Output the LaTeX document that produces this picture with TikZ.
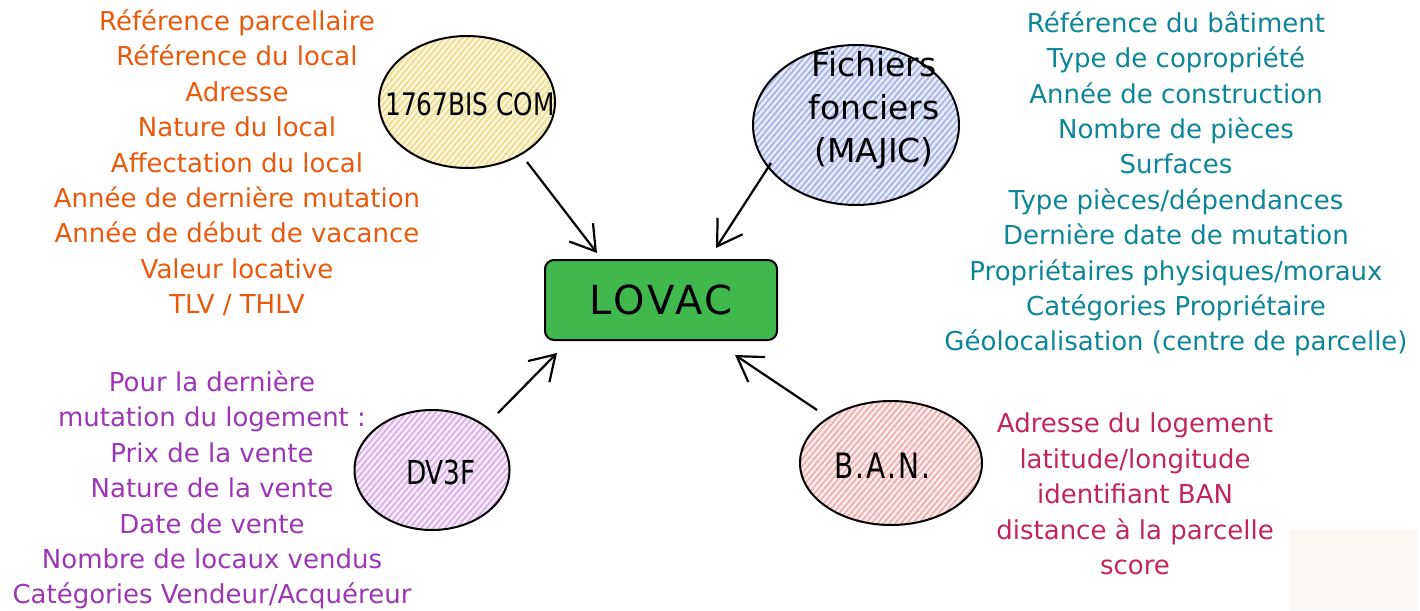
\documentclass[tikz,border=0pt]{standalone}
\usepackage{fontspec}
\setmainfont{DejaVu Sans}
\newfontfamily\narrowfont[FakeStretch=0.8]{DejaVu Sans}
\usetikzlibrary{arrows.meta,patterns.meta,shapes.geometric}
\definecolor{cOrange}{HTML}{E8590C}
\definecolor{cTeal}{HTML}{0C8599}
\definecolor{cGrape}{HTML}{9C36B5}
\definecolor{cPink}{HTML}{C2255C}
\definecolor{hYellow}{HTML}{F0DC8E}
\definecolor{tYellow}{HTML}{FCF6DC}
\definecolor{hBlue}{HTML}{A8B5E6}
\definecolor{tBlue}{HTML}{E8ECFA}
\definecolor{hGrape}{HTML}{DBAEE8}
\definecolor{tGrape}{HTML}{F7ECFB}
\definecolor{hPink}{HTML}{EDB0B0}
\definecolor{tPink}{HTML}{FCEDED}
\definecolor{cGreen}{HTML}{40B84E}
\definecolor{faint}{HTML}{FBF8F4}
\tikzset{
  src/.style={ellipse, draw=black, line width=2pt, inner sep=0pt},
  hatch/.style 2 args={preaction={fill=#2}, pattern={Lines[angle=50,distance=4.5pt,line width=1.8pt]}, pattern color=#1},
  lbl/.style={font=\fontsize{31}{40}\selectfont, text=black, align=center},
  info/.style={font=\fontsize{26}{35.4}\selectfont, align=center, text=#1},
  arr/.style={line width=2.2pt, -{Straight Barb[length=24pt,width=30pt,line width=2.2pt]}},
}
\begin{document}
\begin{tikzpicture}[x=1pt,y=-1pt]
\useasboundingbox (0,0) rectangle (1420,610);
\fill[faint] (1290,530) rectangle (1418,610);

% source ellipses
\node[src, minimum width=176pt, minimum height=132pt, hatch={hYellow}{tYellow}] (com) at (467,102) {};
\node[lbl, font=\narrowfont\fontsize{31}{40}\selectfont] (comt) at (470,104) {1767BIS COM};
\node[src, minimum width=206pt, minimum height=160pt, hatch={hBlue}{tBlue}] (majic) at (856,125) {};
\node[lbl, font=\fontsize{33}{43}\selectfont] (majict) at (874,110) {Fichiers\\fonciers\\(MAJIC)};
\node[src, minimum width=155pt, minimum height=120pt, hatch={hGrape}{tGrape}] (dvf) at (432,470) {};
\node[lbl, font=\narrowfont\fontsize{33}{40}\selectfont] (dvft) at (441,472) {DV3F};
\node[src, minimum width=182pt, minimum height=124pt, hatch={hPink}{tPink}] (ban) at (891,463) {};
\node[lbl, font=\narrowfont\fontsize{35}{40}\selectfont\addfontfeature{LetterSpace=6}] (bant) at (882,466) {B.A.N.};

% LOVAC
\node[draw=black, line width=2pt, fill=cGreen, rounded corners=9pt,
      minimum width=232pt, minimum height=80pt, font=\fontsize{40}{44}\selectfont\addfontfeature{LetterSpace=8}] (lovac) at (661,300) {LOVAC};

% arrows
\coordinate (s1) at (527,162);
\coordinate (t1) at (597,253);
\coordinate (s2) at (771,163);
\coordinate (t2) at (716,248);
\coordinate (s3) at (498,413);
\coordinate (t3) at (557,353);
\coordinate (s4) at (817,410);
\coordinate (t4) at (735,355);
\draw[arr] (s1) -- (t1);
\draw[arr] (s2) -- (t2);
\draw[arr] (s3) -- (t3);
\draw[arr] (s4) -- (t4);

% info texts
\node[info=cOrange] (inf1) at (237,163) {Référence parcellaire\\Référence du local\\Adresse\\Nature du local\\Affectation du local\\Année de dernière mutation\\Année de début de vacance\\Valeur locative\\TLV / THLV};
\node[info=cTeal] (inf2) at (1176,184) {Référence du bâtiment\\Type de copropriété\\Année de construction\\Nombre de pièces\\Surfaces\\Type pièces/dépendances\\Dernière date de mutation\\Propriétaires physiques/moraux\\Catégories Propriétaire\\Géolocalisation (centre de parcelle)};
\node[info=cGrape] (inf3) at (212,490) {Pour la dernière\\mutation du logement :\\Prix de la vente\\Nature de la vente\\Date de vente\\Nombre de locaux vendus\\Catégories Vendeur/Acquéreur};
\node[info=cPink] (inf4) at (1135,494) {Adresse du logement\\latitude/longitude\\identifiant BAN\\distance à la parcelle\\score};
\end{tikzpicture}
\end{document}
